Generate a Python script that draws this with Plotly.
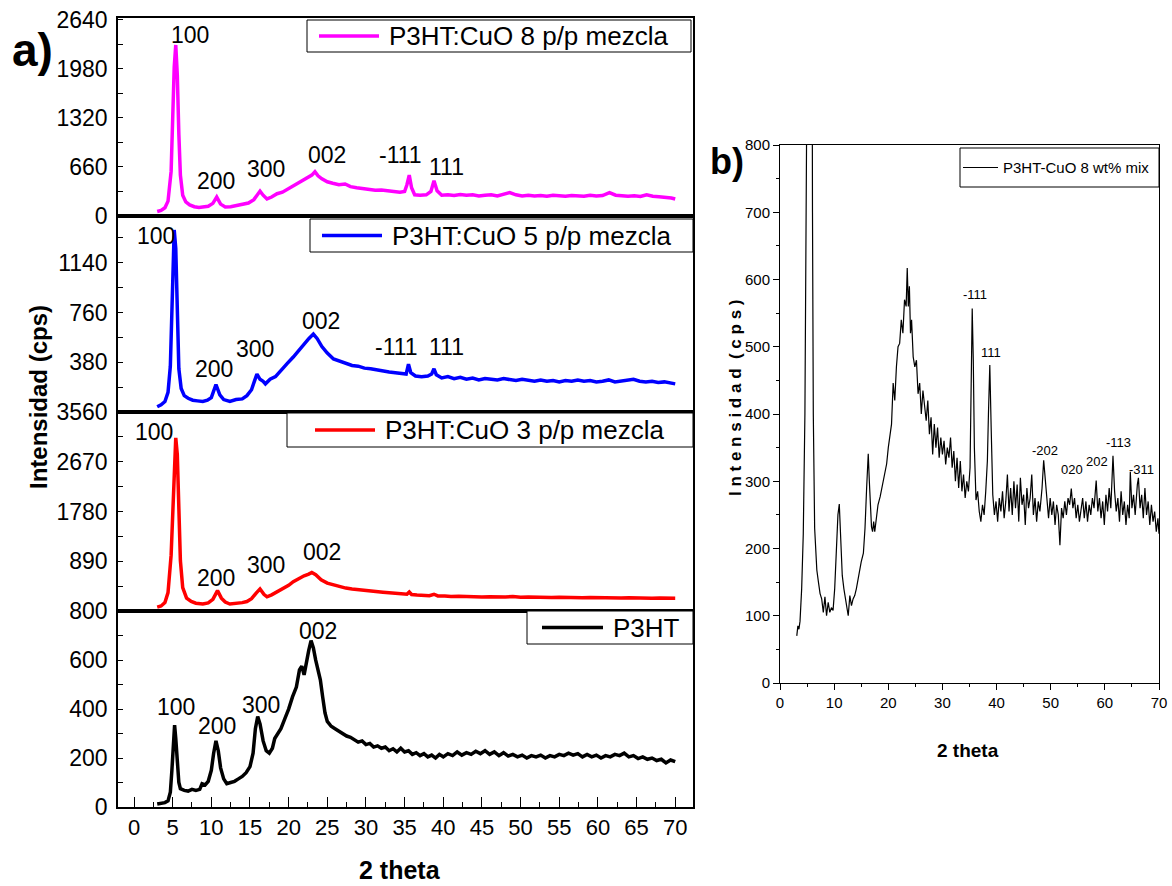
import plotly.graph_objects as go

# ---------------- data ----------------
# Panel a) : P3HT:CuO 8 p/p mezcla (magenta)
x_m8 = [3.0, 3.5, 4.0, 4.4, 4.8, 5.0, 5.2, 5.4, 5.6, 5.8, 6.0, 6.3, 6.7, 7.2, 7.8, 8.4, 9.0, 9.6, 10.2, 10.7,
        11.2, 11.8, 12.5, 13.2, 14.0, 14.8, 15.5, 16.0, 16.3, 16.7, 17.2, 17.8, 18.5, 19.2, 20.0, 20.7, 21.4, 22.0,
        22.6, 23.0, 23.4, 23.8, 24.3, 25.0, 25.7, 26.5, 27.3, 28.0, 28.8, 29.6, 30.4, 31.2, 32.0, 32.8, 33.6, 34.4,
        35.0, 35.3, 35.6, 35.9, 36.3, 37.0, 37.8, 38.4, 38.8, 39.2, 39.8, 40.6, 41.4, 42.2, 43.0, 43.8, 44.6, 45.4,
        46.2, 47.0, 47.8, 48.6, 49.4, 50.2, 51.0, 51.8, 52.6, 53.4, 54.2, 55.0, 55.8, 56.6, 57.4, 58.2, 59.0, 59.8,
        60.6, 61.5, 62.3, 63.1, 63.9, 64.7, 65.5, 66.3, 67.1, 67.9, 68.7, 69.5, 70.0]
y_m8 = [60, 75, 110, 200, 600, 1300, 2000, 2300, 1900, 1100, 550, 280, 190, 150, 125, 115, 120, 130, 170, 255,
        160, 120, 125, 140, 150, 175, 220, 290, 335, 280, 230, 255, 300, 320, 370, 410, 460, 500,
        530, 550, 595, 540, 500, 460, 440, 420, 430, 395, 380, 370, 360, 345, 350, 335, 330, 320,
        330, 420, 550, 380, 285, 280, 285, 330, 475, 340, 280, 285, 275, 290, 280, 285, 270, 280,
        285, 270, 290, 315, 285, 270, 280, 270, 275, 265, 280, 270, 265, 275, 270, 265, 280, 270,
        275, 315, 280, 270, 265, 272, 262, 285, 265, 258, 252, 242, 228]

# P3HT:CuO 5 p/p mezcla (blue)
x_m5 = [3.0, 3.5, 4.0, 4.4, 4.7, 5.0, 5.2, 5.4, 5.6, 5.8, 6.1, 6.5, 7.0, 7.6, 8.2, 8.9, 9.5, 10.0, 10.6, 11.1,
        11.6, 12.4, 13.2, 14.0, 14.6, 15.2, 15.6, 15.9, 16.3, 16.7, 17.0, 17.6, 18.3, 19.0, 19.8, 20.6, 21.3, 22.0,
        22.6, 23.2, 23.7, 24.3, 25.0, 25.8, 26.6, 27.4, 28.2, 29.0, 29.8, 30.6, 31.4, 32.2, 33.0, 33.8, 34.6, 35.2,
        35.5, 35.8, 36.4, 37.2, 38.0, 38.5, 38.8, 39.1, 39.8, 40.6, 41.4, 42.2, 43.0, 43.8, 44.6, 45.4, 46.2, 47.0,
        47.8, 48.6, 49.4, 50.2, 51.0, 51.8, 52.6, 53.4, 54.2, 55.0, 55.8, 56.6, 57.4, 58.2, 59.0, 59.8, 60.6, 61.4,
        62.2, 63.0, 63.8, 64.6, 65.4, 66.2, 67.0, 67.8, 68.6, 69.4, 70.0]
y_m5 = [40, 55, 80, 150, 350, 900, 1390, 1250, 700, 330, 180, 125, 105, 90, 85, 80, 90, 110, 210, 130,
        95, 80, 95, 100, 125, 170, 240, 290, 250, 235, 215, 250, 270, 320, 370, 420, 470, 520,
        560, 595, 560, 500, 450, 405, 390, 370, 355, 350, 335, 330, 320, 315, 305, 300, 295, 290,
        365, 300, 275, 270, 275, 290, 330, 285, 260, 270, 255, 265, 250, 260, 245, 255, 250, 245,
        255, 250, 240, 250, 240, 235, 245, 235, 240, 230, 240, 235, 245, 235, 240, 230, 235, 245,
        230, 235, 240, 250, 235, 230, 235, 225, 230, 220, 215]

# P3HT:CuO 3 p/p mezcla (red)
x_m3 = [3.0, 3.5, 4.0, 4.4, 4.8, 5.1, 5.4, 5.6, 5.8, 6.0, 6.3, 6.8, 7.4, 8.0, 8.9, 9.6, 10.2, 10.8, 11.3, 11.8,
        12.4, 13.2, 14.0, 14.6, 15.2, 15.8, 16.3, 16.8, 17.2, 17.8, 18.5, 19.2, 20.0, 20.6, 21.3, 22.0, 22.6, 23.0,
        23.5, 24.2, 25.0, 25.8, 26.6, 27.4, 28.2, 29.0, 29.8, 30.6, 31.4, 32.2, 33.0, 33.8, 34.6, 35.3, 35.6, 35.9,
        36.6, 37.4, 38.2, 38.8, 39.3, 40.2, 41.0, 42.0, 43.0, 44.0, 45.0, 46.0, 47.0, 48.0, 49.0, 50.0, 51.0, 52.0,
        53.0, 54.0, 55.0, 56.0, 57.0, 58.0, 59.0, 60.0, 61.0, 62.0, 63.0, 64.0, 65.0, 66.0, 67.0, 68.0, 69.0, 70.0]
y_m3 = [70, 90, 150, 330, 1000, 2200, 3100, 2800, 1800, 900, 420, 230, 170, 140, 125, 145, 210, 365, 230, 160,
        125, 135, 150, 170, 220, 320, 395, 300, 255, 290, 340, 400, 460, 525, 580, 630, 660, 690,
        650, 560, 500, 465, 440, 410, 395, 380, 370, 355, 345, 335, 325, 315, 310, 300, 340, 295,
        285, 280, 275, 300, 270, 270, 260, 265, 255, 260, 250, 255, 248, 250, 258, 245, 250, 242,
        248, 240, 245, 238, 242, 236, 240, 235, 240, 236, 232, 236, 230, 234, 228, 232, 226, 230]

# P3HT (black)
x_p3 = [3.0, 3.5, 4.0, 4.4, 4.7, 4.9, 5.1, 5.25, 5.4, 5.6, 5.8, 6.0, 6.5, 7.0, 7.5, 8.0, 8.5, 8.8, 9.2, 9.6,
        10.0, 10.3, 10.6, 10.9, 11.2, 11.6, 12.0, 12.5, 13.0, 13.5, 14.0, 14.5, 15.0, 15.4, 15.7, 16.0, 16.3, 16.7,
        17.1, 17.5, 17.9, 18.2, 18.6, 19.0, 19.5, 20.0, 20.5, 21.0, 21.4, 21.7, 22.0, 22.3, 22.6, 22.9, 23.2, 23.5,
        23.8, 24.1, 24.4, 24.7, 25.0, 25.5, 26.0, 26.5, 27.0, 27.5, 28.0, 28.5, 29.0, 29.5, 30.0, 30.5, 31.0, 31.5,
        32.0, 32.5, 33.0, 33.5, 34.0, 34.5, 35.0, 35.5, 36.0, 36.5, 37.0, 37.5, 38.0, 38.5, 39.0, 39.5, 40.0, 40.6,
        41.2, 41.8, 42.4, 43.0, 43.6, 44.2, 44.8, 45.4, 46.0, 46.6, 47.2, 47.8, 48.4, 49.0, 49.6, 50.2, 50.8, 51.4,
        52.0, 52.6, 53.2, 53.8, 54.4, 55.0, 55.6, 56.2, 56.8, 57.4, 58.0, 58.6, 59.2, 59.8, 60.4, 61.0, 61.6, 62.2,
        62.8, 63.4, 64.0, 64.6, 65.2, 65.8, 66.4, 67.0, 67.6, 68.2, 68.8, 69.4, 70.0]
y_p3 = [12, 15, 18, 25, 60, 150, 290, 335, 280, 170, 100, 75, 68, 65, 72, 68, 72, 95, 90, 105,
        150, 220, 270, 230, 160, 115, 95, 100, 105, 115, 125, 140, 165, 220, 320, 370, 340, 270,
        230, 220, 240, 280, 300, 320, 360, 400, 450, 490, 560, 575, 540, 600, 640, 680, 650, 600,
        560, 520, 450, 385, 350, 330, 320, 310, 300, 290, 285, 275, 265, 270, 255, 260, 245, 250,
        240, 245, 230, 238, 225, 240, 225, 230, 215, 222, 210, 218, 205, 212, 200, 215, 205, 218,
        210, 225, 212, 222, 215, 228, 218, 230, 215, 225, 210, 222, 208, 215, 205, 212, 200, 210,
        205, 212, 200, 210, 205, 215, 210, 220, 212, 218, 205, 215, 205, 212, 200, 210, 205, 215,
        210, 220, 205, 210, 198, 205, 195, 200, 190, 195, 180, 192, 185]

# Panel b) : P3HT-CuO 8 wt% mix
x_b = [3.1, 3.3, 3.5, 3.7, 4.0, 4.3, 4.6, 4.9, 5.2, 5.5, 5.8, 6.0, 6.15, 6.4, 6.8, 7.1, 7.4, 7.7, 8.0, 8.3,
       8.6, 8.9, 9.2, 9.5, 9.8, 10.1, 10.4, 10.7, 10.95, 11.2, 11.5, 11.8, 12.1, 12.4, 12.6, 12.9, 13.2, 13.5,
       13.8, 14.1, 14.4, 14.7, 15.0, 15.4, 15.7, 16.0, 16.3, 16.5, 16.7, 16.9, 17.1, 17.3, 17.5, 17.8, 18.1,
       18.5, 18.8, 19.1, 19.4, 19.7, 20.0, 20.3, 20.6, 20.9, 21.2, 21.5, 21.8, 22.1, 22.4, 22.7, 23.0, 23.3,
       23.5, 23.7, 23.9, 24.1, 24.3, 24.6, 24.9, 25.2, 25.5, 25.8, 26.1, 26.4, 26.7, 27.0, 27.3, 27.6, 27.9,
       28.2, 28.5, 28.8, 29.1, 29.4, 29.7, 30.0, 30.3, 30.6, 30.9, 31.2, 31.5, 31.8, 32.1, 32.4, 32.7, 33.0,
       33.3, 33.6, 33.9, 34.2, 34.5, 34.8, 35.1, 35.3, 35.5, 35.7, 35.9, 36.2, 36.5, 36.8, 37.1, 37.4, 37.7,
       38.0, 38.3, 38.5, 38.75, 39.0, 39.3, 39.6, 39.9, 40.2, 40.5, 40.8, 41.1, 41.4, 41.7, 42.0, 42.3, 42.6,
       42.9, 43.2, 43.5, 43.8, 44.1, 44.4, 44.7, 45.0, 45.3, 45.6, 45.9, 46.2, 46.5, 46.8, 47.1, 47.4, 47.7,
       48.0, 48.4, 48.7, 49.0, 49.3, 49.6, 49.9, 50.2, 50.5, 50.8, 51.1, 51.4, 51.7, 52.0, 52.3, 52.6, 52.9,
       53.2, 53.5, 53.8, 54.1, 54.4, 54.7, 55.0, 55.3, 55.6, 55.9, 56.2, 56.5, 56.8, 57.1, 57.4, 57.7, 58.0,
       58.4, 58.7, 59.0, 59.3, 59.6, 59.9, 60.2, 60.5, 60.8, 61.1, 61.5, 61.8, 62.1, 62.4, 62.7, 63.0, 63.3,
       63.6, 63.9, 64.2, 64.5, 64.7, 65.0, 65.3, 65.6, 66.0, 66.2, 66.5, 66.8, 67.1, 67.4, 67.7, 68.0, 68.3,
       68.6, 68.9, 69.2, 69.5, 69.8, 70.0]
y_b = [70, 85, 80, 92, 140, 222, 400, 800, 1600, 2300, 1500, 700, 400, 230, 168, 150, 133, 125, 105, 128,
       100, 120, 105, 112, 108, 140, 200, 250, 266, 220, 160, 140, 125, 110, 100, 130, 115, 125,
       130, 140, 155, 165, 180, 193, 230, 290, 341, 300, 260, 232, 225, 240, 225, 250, 265,
       277, 290, 300, 310, 326, 350, 370, 385, 446, 420, 470, 500, 505, 540, 520, 570, 560,
       617, 560, 590, 520, 540, 485, 470, 480, 430, 446, 400, 435, 410, 390, 420, 370, 395,
       340, 385, 350, 380, 335, 365, 340, 360, 325, 350, 335, 365, 320, 345, 300, 335, 290,
       330, 285, 310, 275, 300, 285, 320, 420, 557, 480, 350, 272, 285, 255, 240, 265, 250,
       285, 330, 400, 473, 380, 280, 250, 270, 240, 275, 255, 285, 245, 270, 310, 255, 290,
       250, 300, 260, 295, 240, 305, 265, 280, 235, 290, 260, 275, 310, 250, 275, 240, 270,
       255, 290, 331, 300, 265, 245, 275, 250, 270, 235, 265, 250, 205, 260, 245, 270, 250,
       275, 265, 289, 260, 275, 245, 265, 240, 260, 275, 245, 270, 240, 265, 250, 275, 260,
       301, 255, 275, 245, 270, 235, 280, 255, 290, 260, 338, 285, 255, 275, 240, 285, 250,
       270, 235, 265, 245, 314, 260, 280, 250, 295, 305, 260, 280, 245, 290, 250, 270, 235,
       265, 240, 255, 225, 245, 222]

# peak labels: (text, 2theta, intensity)
lab_m8 = [("100", 7.3, 2440), ("200", 10.6, 467), ("300", 17.1, 633), ("002", 24.9, 822),
          ("-111", 34.5, 822), ("111", 40.4, 660)]
lab_m5 = [("100", 2.8, 1345), ("200", 10.4, 327), ("300", 15.7, 479), ("002", 24.2, 694),
          ("-111", 34.0, 494), ("111", 40.4, 494)]
lab_m3 = [("100", 2.6, 3200), ("200", 10.6, 588), ("300", 17.1, 818), ("002", 24.3, 1055)]
lab_p3 = [("100", 5.4, 407), ("200", 10.7, 331), ("300", 16.4, 415), ("002", 23.8, 718)]
lab_b = [("-111", 36.1, 578), ("111", 39.0, 492), ("-202", 48.9, 345), ("020", 53.9, 317),
         ("202", 58.5, 329), ("-113", 62.6, 358), ("-311", 66.7, 318)]

# tick values
xticks_a = list(range(0, 75, 5))
yticks_m8 = [0, 660, 1320, 1980, 2640]
yticks_m5 = [380, 760, 1140]
yticks_m3 = [890, 1780, 2670, 3560]
yticks_p3 = [0, 200, 400, 600, 800]

# ---------------- figure ----------------
W, H = 1172, 886
FA = "Liberation Sans, Arial, sans-serif"


def px_x(p):
    return p / W


def px_y(p):
    return 1 - p / H


fig = go.Figure()

series = [
    (x_p3, y_p3, "P3HT", "black", "x", "y"),
    (x_m3, y_m3, "P3HT:CuO 3 p/p mezcla", "#ff0000", "x2", "y2"),
    (x_m5, y_m5, "P3HT:CuO 5 p/p mezcla", "#0000ff", "x3", "y3"),
    (x_m8, y_m8, "P3HT:CuO 8 p/p mezcla", "#ff00ff", "x4", "y4"),
]
for xs, ys, name, col, xa, ya in series:
    fig.add_trace(go.Scatter(x=xs, y=ys, mode="lines", name=name, xaxis=xa, yaxis=ya,
                             line=dict(color=col, width=3.5), showlegend=False))

fig.add_trace(go.Scatter(x=x_b, y=y_b, mode="lines", name="P3HT-CuO 8 wt% mix", xaxis="x5", yaxis="y5",
                         line=dict(color="black", width=1.2), showlegend=False))

xdom_a = [px_x(118), px_x(693)]
xrange_a = [-2.07, 72.3]
frame = dict(showline=True, linecolor="black", linewidth=1.5, mirror=True, showgrid=False, zeroline=False,
             automargin=False)

yax_common = dict(frame, ticks="inside", ticklen=5, tickwidth=1.2, tickcolor="black",
                  tickfont=dict(family=FA, size=23, color="black"), ticklabelstandoff=4,
                  tickmode="array")

fig.update_layout(
    width=W, height=H, margin=dict(l=0, r=0, t=0, b=0, autoexpand=False),
    paper_bgcolor="white", plot_bgcolor="white", showlegend=False,
    xaxis=dict(frame, domain=xdom_a, range=xrange_a, anchor="y", tickmode="array", tickvals=xticks_a,
               ticks="inside", ticklen=10, tickwidth=1.2, tickcolor="black",
               minor=dict(dtick=2.5, ticks="inside", ticklen=5, tickwidth=1.2, tickcolor="black"),
               tickfont=dict(family=FA, size=22, color="black")),
    xaxis2=dict(frame, domain=xdom_a, range=xrange_a, anchor="y2", matches="x", showticklabels=False, ticks=""),
    xaxis3=dict(frame, domain=xdom_a, range=xrange_a, anchor="y3", matches="x", showticklabels=False, ticks=""),
    xaxis4=dict(frame, domain=xdom_a, range=xrange_a, anchor="y4", matches="x", showticklabels=False, ticks=""),
    yaxis=dict(yax_common, domain=[px_y(807), px_y(611)], range=[0, 801], anchor="x", tickvals=yticks_p3,
               minor=dict(tickvals=[100, 300, 500, 700], ticks="inside", ticklen=5, tickcolor="black")),
    yaxis2=dict(yax_common, domain=[px_y(611), px_y(412)], range=[0, 3562], anchor="x2", tickvals=yticks_m3,
                minor=dict(tickvals=[445, 1335, 2225, 3115], ticks="inside", ticklen=5, tickcolor="black")),
    yaxis3=dict(yax_common, domain=[px_y(412), px_y(216)], range=[0, 1497], anchor="x3", tickvals=yticks_m5,
                minor=dict(tickvals=[190, 570, 950, 1330], ticks="inside", ticklen=5, tickcolor="black")),
    yaxis4=dict(yax_common, domain=[px_y(216), px_y(18)], range=[0, 2663], anchor="x4", tickvals=yticks_m8,
                minor=dict(tickvals=[330, 990, 1650, 2310], ticks="inside", ticklen=5, tickcolor="black")),
    xaxis5=dict(domain=[px_x(780), px_x(1159)], range=[0, 70], anchor="y5", showline=True, linecolor="black",
                linewidth=1, mirror=True, showgrid=False, zeroline=False, dtick=10, tick0=0, automargin=False,
                ticks="outside", ticklen=6, tickcolor="black",
                minor=dict(dtick=5, ticks="outside", ticklen=3, tickcolor="black"),
                tickfont=dict(family=FA, size=15, color="black")),
    yaxis5=dict(domain=[px_y(683), px_y(145)], range=[0, 800], anchor="x5", showline=True, linecolor="black",
                linewidth=1, mirror=True, showgrid=False, zeroline=False, dtick=100, tick0=0, automargin=False,
                ticks="outside", ticklen=6, tickcolor="black",
                minor=dict(dtick=50, ticks="outside", ticklen=3, tickcolor="black"),
                tickfont=dict(family=FA, size=15, color="black")),
)

# ---- legend boxes (drawn as boxes, sample lines and texts, placed as in the reference) ----
# (name, colour, box left, box right, box top, box bottom, sample left, sample right, text gap, font, width)
legend_boxes = [
    ("P3HT:CuO 8 p/p mezcla", "#ff00ff", 307, 691, 20, 52, 319, 379, 8, 26, 3.5),
    ("P3HT:CuO 5 p/p mezcla", "#0000ff", 310, 693, 219, 252, 322, 382, 8, 26, 3.5),
    ("P3HT:CuO 3 p/p mezcla", "#ff0000", 287, 693, 413, 447, 315, 375, 8, 26, 3.5),
    ("P3HT", "black", 527, 693, 611, 644, 542, 603, 8, 26, 3.5),
    ("P3HT-CuO 8 wt% mix", "black", 960, 1159, 148, 187, 963, 998, 3, 15, 1.2),
]
shapes = []
ann = []
for name, col, l, r, t, b, sl, sr, gap, fs, lw in legend_boxes:
    shapes.append(dict(type="rect", xref="paper", yref="paper", x0=px_x(l), x1=px_x(r), y0=px_y(b), y1=px_y(t),
                       line=dict(color="black", width=1), fillcolor="white", layer="above"))
    ym = (t + b) / 2
    shapes.append(dict(type="line", xref="paper", yref="paper", x0=px_x(sl), x1=px_x(sr), y0=px_y(ym),
                       y1=px_y(ym), line=dict(color=col, width=lw), layer="above"))
    ann.append(dict(text=name, x=px_x(sr + gap), y=px_y(ym), xref="paper", yref="paper", showarrow=False,
                    xanchor="left", yanchor="middle", font=dict(family=FA, size=fs, color="black")))
fig.update_layout(shapes=shapes)

for labs, xr, yr in [(lab_m8, "x4", "y4"), (lab_m5, "x3", "y3"), (lab_m3, "x2", "y2"), (lab_p3, "x", "y")]:
    for t, xv, yv in labs:
        ann.append(dict(text=t, x=xv, y=yv, xref=xr, yref=yr, showarrow=False, xanchor="center",
                        yanchor="middle", font=dict(family=FA, size=23, color="black")))
for t, xv, yv in lab_b:
    ann.append(dict(text=t, x=xv, y=yv, xref="x5", yref="y5", showarrow=False, xanchor="center",
                    yanchor="middle", font=dict(family=FA, size=13, color="black")))

# titles and panel letters
ann += [
    dict(text="<b>2 theta</b>", x=px_x(400), y=px_y(870), xref="paper", yref="paper", showarrow=False,
         xanchor="center", yanchor="middle", font=dict(family=FA, size=25, color="black")),
    dict(text="<b>Intensidad (cps)</b>", x=px_x(38), y=px_y(397), xref="paper", yref="paper", showarrow=False,
         textangle=-90, xanchor="center", yanchor="middle", font=dict(family=FA, size=24, color="black")),
    dict(text="<b>a)</b>", x=px_x(32), y=px_y(50), xref="paper", yref="paper", showarrow=False,
         xanchor="center", yanchor="middle", font=dict(family=FA, size=46, color="black")),
    dict(text="<b>b)</b>", x=px_x(727), y=px_y(162), xref="paper", yref="paper", showarrow=False,
         xanchor="center", yanchor="middle", font=dict(family=FA, size=36, color="black")),
    dict(text="<b>2 theta</b>", x=px_x(968), y=px_y(750), xref="paper", yref="paper", showarrow=False,
         xanchor="center", yanchor="middle", font=dict(family=FA, size=19, color="black")),
    dict(text="<b>I n t e n s i d a d  ( c p s )</b>", x=px_x(735), y=px_y(398), xref="paper", yref="paper",
         showarrow=False, textangle=-90, xanchor="center", yanchor="middle",
         font=dict(family=FA, size=17, color="black")),
]
fig.update_layout(annotations=ann)

fig.write_html("out.html", post_script="document.body.style.margin='0';",
               config={"displayModeBar": False})
